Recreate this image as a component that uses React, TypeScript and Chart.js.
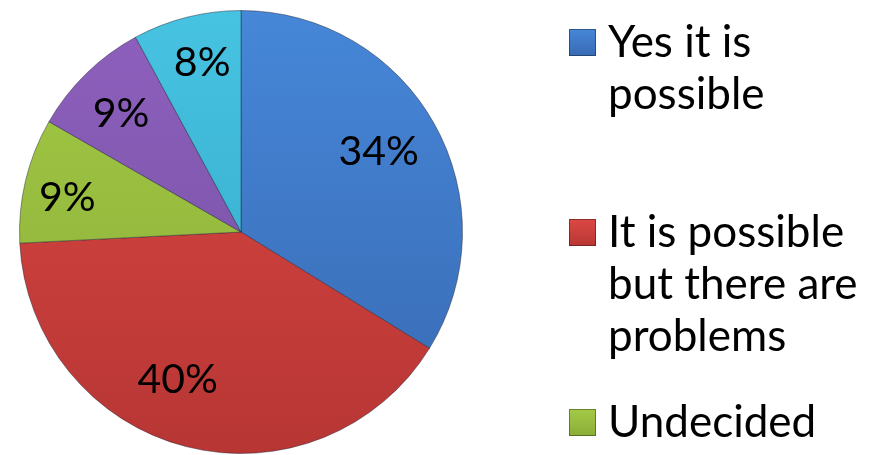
import React, { useEffect, useRef } from "react";
import { Chart, registerables } from "chart.js";

Chart.register(...registerables);

const categories = [
  "Yes it is possible",
  "It is possible but there are problems",
  "Undecided",
  "It is not possible",
  "Other",
];
const values = [33.8, 40.4, 9.1, 8.8, 7.9];
const topColors = ["#4687D8", "#DC4844", "#A4CA46", "#8E60BE", "#47C3E2"];
const bottomColors = ["#3869B2", "#B73634", "#88AC36", "#73509F", "#33A6C6"];

// label placement (radius fraction, angle nudge in degrees)
const labelRadius = [0.723, 0.72, 0.8, 0.766, 0.79];
const labelNudgeDeg = [-1.5, 9, -2, -0.7, 1.4];

const FONT = "Lato, 'Open Sans', sans-serif";

const pctLabels = values.map(
  (v) => Math.round((v / values.reduce((a, b) => a + b, 0)) * 100) + "%"
);

const labelsPlugin = {
  id: "pctLabels",
  afterDatasetsDraw(chart: any) {
    const ctx = chart.ctx;
    const meta = chart.getDatasetMeta(0);
    ctx.save();
    ctx.font = `41px ${FONT}`;
    ctx.fillStyle = "#000";
    ctx.textAlign = "center";
    ctx.textBaseline = "alphabetic";
    meta.data.forEach((arc: any, i: number) => {
      const p = arc.getProps(["x", "y", "startAngle", "endAngle", "outerRadius"], true);
      const mid = (p.startAngle + p.endAngle) / 2 + (labelNudgeDeg[i] * Math.PI) / 180;
      const r = p.outerRadius * labelRadius[i];
      const x = p.x + Math.cos(mid) * r;
      const y = p.y + Math.sin(mid) * r;
      ctx.fillText(pctLabels[i], x, y + 41 * 0.36);
    });
    ctx.restore();
  },
};

function wrap(ctx: CanvasRenderingContext2D, text: string, maxW: number): string[] {
  const words = text.split(" ");
  const lines: string[] = [];
  let cur = "";
  for (const w of words) {
    const t = cur ? cur + " " + w : w;
    if (ctx.measureText(t).width > maxW && cur) {
      lines.push(cur);
      cur = w;
    } else cur = t;
  }
  if (cur) lines.push(cur);
  return lines;
}

const legendPlugin = {
  id: "sideLegend",
  afterDraw(chart: any) {
    const ctx = chart.ctx;
    ctx.save();
    ctx.font = `44px ${FONT}`;
    ctx.textAlign = "left";
    ctx.textBaseline = "alphabetic";
    const boxX = 569;
    const textX = 608;
    const startY = 57;
    const step = 190;
    const lineH = 52;
    const labels: string[] = chart.data.labels;
    labels.forEach((lab, i) => {
      const by = startY + i * step;
      const g = ctx.createLinearGradient(0, by - 28, 0, by);
      g.addColorStop(0, topColors[i]);
      g.addColorStop(1, bottomColors[i]);
      ctx.fillStyle = g;
      ctx.fillRect(boxX, by - 28, 27, 27);
      ctx.strokeStyle = "rgba(0,0,0,0.35)";
      ctx.lineWidth = 1;
      ctx.strokeRect(boxX + 0.5, by - 27.5, 26, 26);
      ctx.fillStyle = "#000";
      const lines = wrap(ctx, lab, 265);
      lines.forEach((ln, j) => ctx.fillText(ln, textX, by + j * lineH));
    });
    ctx.restore();
  },
};

export default function App() {
  const ref = useRef<HTMLCanvasElement | null>(null);
  useEffect(() => {
    document.body.style.margin = "0";
    const canvas = ref.current!;
    const chart = new Chart(canvas, {
      type: "pie",
      data: {
        labels: categories,
        datasets: [
          {
            data: values,
            backgroundColor: (c: any) => {
              const ch = c.chart;
              const area = ch.chartArea;
              const i = c.dataIndex ?? 0;
              if (!area) return topColors[i];
              const g = ch.ctx.createLinearGradient(0, area.top, 0, area.bottom);
              g.addColorStop(0, topColors[i]);
              g.addColorStop(1, bottomColors[i]);
              return g;
            },
            borderColor: "rgba(30,30,50,0.45)",
            borderWidth: 1,
          },
        ],
      },
      options: {
        responsive: false,
        animation: false,
        layout: { padding: { left: 19, top: 10, right: 412, bottom: 1 } },
        plugins: {
          legend: { display: false },
          tooltip: { enabled: false },
        },
      },
      plugins: [labelsPlugin, legendPlugin],
    });
    return () => chart.destroy();
  }, []);
  return (
    <div style={{ width: 875, height: 455, overflow: "hidden", background: "#fff" }}>
      <canvas ref={ref} width={875} height={455} />
    </div>
  );
}
